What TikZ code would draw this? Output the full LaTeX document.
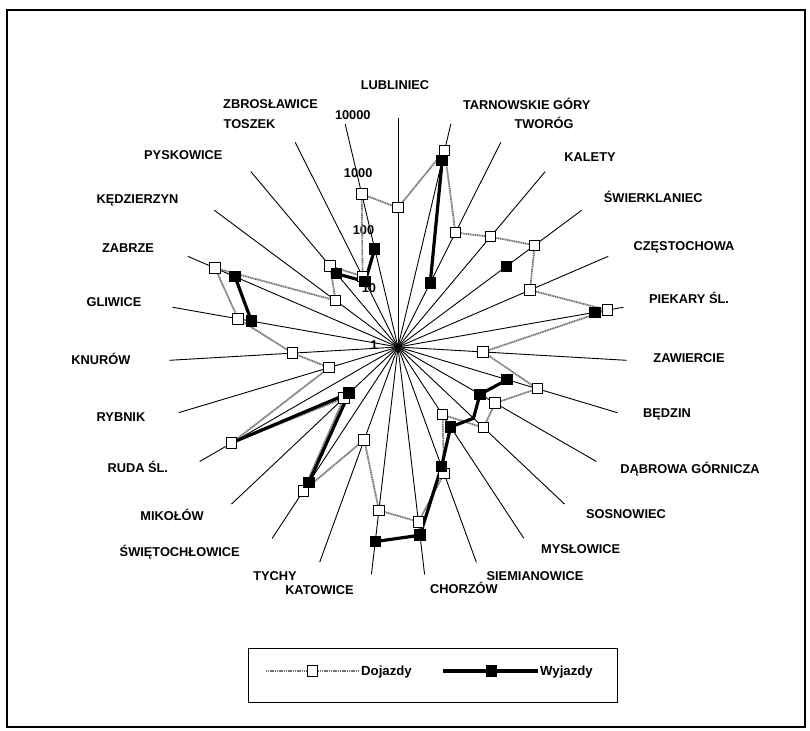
\documentclass[tikz,border=0pt]{standalone}
\usepackage{fontspec}
\setmainfont{Liberation Sans}
\tikzset{
    lbl/.style={font=\fontsize{12.8}{14}\selectfont\bfseries, inner sep=0pt, anchor=base},
    spoke/.style={line width=0.9pt},
    doj/.style={draw=black!55, line width=1.8pt, dash pattern=on 1.2pt off 0.6pt},
    wyj/.style={line width=3.2pt, line join=round},
    dmark/.style={draw, fill=white, line width=1pt, minimum size=10.5pt, inner sep=0pt},
    wmark/.style={draw, fill=black, line width=1pt, minimum size=10.5pt, inner sep=0pt},
}
\begin{document}
\begin{tikzpicture}[x=1pt, y=-1pt]
        \useasboundingbox (0,0) rectangle (810,730);
        \draw[line width=1.6pt] (7,10) rectangle (805,727);
        \coordinate (c) at (398,347);
        % spokes, 27 towns clockwise from the top
        \foreach \i in {0,...,26}
            \draw[spoke] (c) -- ++({229*sin(\i*360/27)}, {-229*cos(\i*360/27)});
        % log scale 1 .. 10000
        \foreach \k/\t in {0/1,1/10,2/100,3/1000,4/10000}
            \node[lbl, anchor=base east] (s\k) at ({378-1.8*\k}, {349.5-57.5*\k}) {\t};
        % data points
        \foreach \v [count=\i from 0] in {271,3375,172,327,947,325,5168,31,347,91,113,26,226,1186,
                747,53,1026,20,2294,18,70,687,3016,23,70,24,557}
            \coordinate (d\i) at ({398+57.25*log10(\v)*sin(\i*360/27)}, {347-57.25*log10(\v)*cos(\i*360/27)});
        \foreach \i/\v in {1/2222,2/18,4/228,6/3103,8/98,9/45,10/65,11/47,12/167,13/2042,14/2642,
                16/687,17/15,18/2084,21/397,22/1260,24/47,25/19,26/58}
            \coordinate (w\i) at ({398+57.25*log10(\v)*sin(\i*360/27)}, {347-57.25*log10(\v)*cos(\i*360/27)});
        \draw[doj] (d0) \foreach \i in {1,...,26} { -- (d\i) } -- cycle;
        \draw[wyj] (w1) -- (w2);
        \draw[wyj] (w8) -- (w9) -- (w10) -- (w11) -- (w12) -- (w13) -- (w14);
        \draw[wyj] (w16) -- (w17) -- (w18);
        \draw[wyj] (w21) -- (w22);
        \draw[wyj] (w24) -- (w25) -- (w26);
        \foreach \i in {0,...,26}
            \node[dmark] (dm\i) at (d\i) {};
        \foreach \i in {1,2,4,6,8,9,11,12,13,14,16,17,21,22,24,25,26}
            \node[wmark] (wm\i) at (w\i) {};
        % town names
        \foreach \x/\y/\t [count=\i from 0] in {395/85/LUBLINIEC, 526.7/105/TARNOWSKIE GÓRY, 544/124.3/TWORÓG,
                590/156.7/KALETY, 653.3/197.7/ŚWIERKLANIEC, 684/245.7/CZĘSTOCHOWA, 689/299/PIEKARY ŚL.,
                689/358.3/ZAWIERCIE, 667/413.3/BĘDZIN, 690/469/DĄBROWA GÓRNICZA, 626/514/SOSNOWIEC,
                580.7/549/MYSŁOWICE, 535/576/SIEMIANOWICE, 464/589/CHORZÓW, 319.5/590/KATOWICE,
                275/576/TYCHY, 179.7/551.7/ŚWIĘTOCHŁOWICE, 172/515.7/MIKOŁÓW, 137.8/467.7/RUDA ŚL.,
                121/416.7/RYBNIK, 101/360/KNURÓW, 114/302.3/GLIWICE, 128/248.3/ZABRZE,
                137.5/199.3/KĘDZIERZYN, 183.3/155/PYSKOWICE, 249.5/124.3/TOSZEK, 270.5/104.3/ZBROSŁAWICE}
            \node[lbl] (n\i) at (\x, {\y+4.6}) {\t};
        % legend
        \draw[line width=1pt] (248,648) rectangle (617,702);
        \coordinate (ld1) at (266,671);
        \coordinate (ld2) at (358,671);
        \coordinate (lw1) at (443,671);
        \coordinate (lw2) at (538,671);
        \draw[doj] (ld1) -- (ld2);
        \draw[wyj] (lw1) -- (lw2);
        \node[dmark] (ld) at (312.7,671) {};
        \node[wmark] (lw) at (491.7,671) {};
        \node[lbl, anchor=base west, font=\fontsize{13.2}{15}\selectfont\bfseries] (ldt) at (361,675.6) {Dojazdy};
        \node[lbl, anchor=base west, font=\fontsize{13.2}{15}\selectfont\bfseries] (lwt) at (540,675.6) {Wyjazdy};
\end{tikzpicture}
\end{document}
